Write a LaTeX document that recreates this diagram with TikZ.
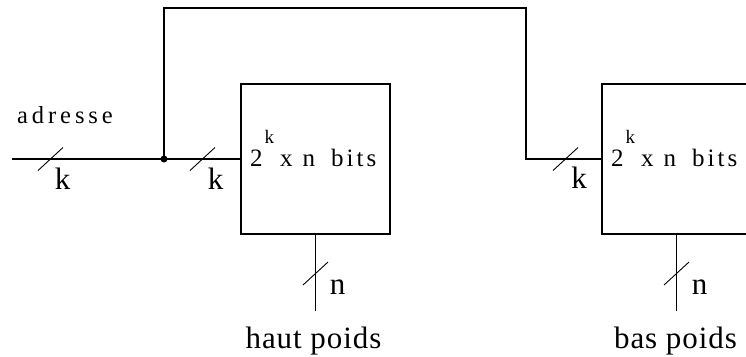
\documentclass[tikz,border=0pt]{standalone}
\usepackage{fontspec}
\setmainfont{Liberation Serif}
\begin{document}
\begin{tikzpicture}[x=1pt,y=-1pt,
  wire/.style={line width=1.7pt},
  slashmark/.style={line width=0.9pt},
  memory/.style={draw, line width=1.7pt, minimum width=149pt, minimum height=150pt, inner sep=0pt},
  smalltxt/.style={font=\fontsize{25}{25}\selectfont\addfontfeature{LetterSpace=12}, inner sep=0pt},
  bigtxt/.style={font=\fontsize{31}{31}\selectfont\addfontfeature{LetterSpace=3}, inner sep=0pt}]
\useasboundingbox (0,0) rectangle (746,356);
\clip (0,0) rectangle (746,356);
% boxes
\node[memory] (b1) at (315.5,159) {};
\node[memory] (b2) at (676.5,159) {};
% box texts
\node[smalltxt, anchor=base west] (t1) at (250,166) {2\hspace{2pt}\raisebox{23pt}{\fontsize{19}{19}\selectfont k}\hspace{6pt}x\hspace{10pt}n\hspace{16pt}bits};
\node[smalltxt, anchor=base west] (t2) at (611,166) {2\hspace{2pt}\raisebox{23pt}{\fontsize{19}{19}\selectfont k}\hspace{6pt}x\hspace{10pt}n\hspace{16pt}bits};
% coordinates
\coordinate (in) at (12,159);
\coordinate (j) at (164,159);
\coordinate (tl) at (164,8);
\coordinate (tr) at (526,8);
\coordinate (bend) at (526,159);
\coordinate (o1) at (b1.south |- 0,311);
\coordinate (o2) at (b2.south |- 0,311);
% wires
\draw[wire] (in) -- (b1.west);
\draw[wire] (j) -- (tl) -- (tr) -- (bend) -- (b2.west);
\draw[wire] (b1.south) -- (o1);
\draw[wire] (b2.south) -- (o2);
\fill (j) circle (3.5);
% bus slashes
\coordinate (s1) at (50.5,159);
\coordinate (s2) at (202.5,159);
\coordinate (s3) at (565.5,159);
\coordinate (s4) at (315.5,273.5);
\coordinate (s5) at (676.5,273.5);
\foreach \s in {s1,s2,s3,s4,s5}
  \draw[slashmark] (\s) +(-12.5,11.5) -- +(12.5,-11.5);
% labels
\node[font=\fontsize{24.5}{24.5}\selectfont\addfontfeature{LetterSpace=16}, inner sep=0pt, anchor=base west] (ad) at (17,123) {adresse};
\node[bigtxt, anchor=base] (k1) at (62.5,189) {k};
\node[bigtxt, anchor=base] (k2) at (215.5,189) {k};
\node[bigtxt, anchor=base] (k3) at (579,188) {k};
\node[bigtxt, anchor=base] (n1) at (337.5,294) {n};
\node[bigtxt, anchor=base] (n2) at (699.5,294) {n};
\node[bigtxt, anchor=base] (hp) at (313.5,348) {haut poids};
\node[bigtxt, anchor=base] (bp) at (675.5,348) {bas poids};
\end{tikzpicture}
\end{document}
